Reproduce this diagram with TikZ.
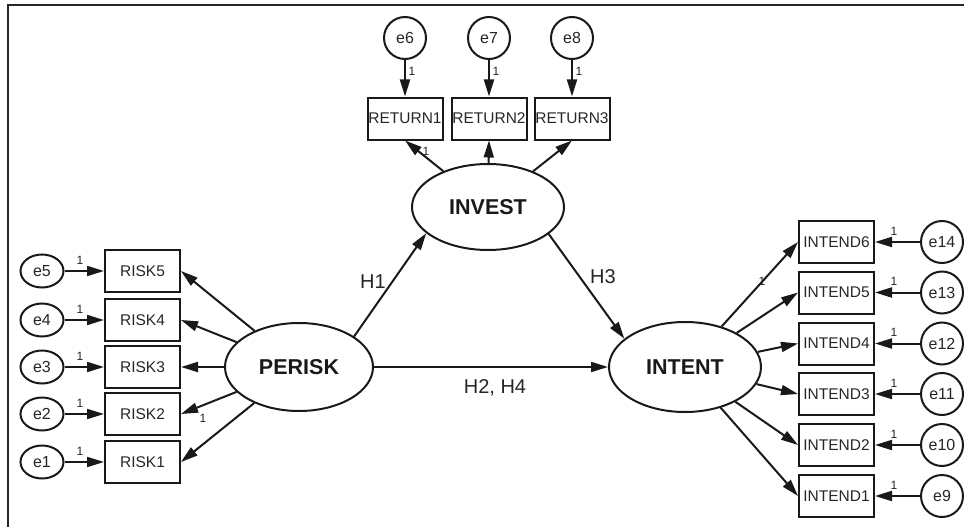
\documentclass[tikz,border=0pt]{standalone}
\usepackage{fontspec}
\setmainfont{Liberation Sans}
\usetikzlibrary{shapes.geometric,arrows.meta}
\begin{document}
\begin{tikzpicture}[x=1pt,y=-1pt,
  ink/.style={draw=black!90, line width=2pt},
  obs/.style={ink, rectangle, minimum width=75pt, minimum height=42pt, inner sep=0pt, text=black!85, font=\fontsize{15.5}{18}\selectfont},
  errc/.style={ink, circle, minimum size=42pt, inner sep=0pt, text=black!85, font=\fontsize{16}{18}\selectfont},
  erre/.style={ink, ellipse, minimum width=43pt, minimum height=33pt, inner sep=0pt, text=black!85, font=\fontsize{16}{18}\selectfont},
  lat/.style={ink, ellipse, inner sep=0pt, text=black!90, font=\bfseries\fontsize{21.5}{24}\selectfont},
  arr/.style={draw=black!90, line width=2pt, -{Triangle[length=17pt,width=10pt]}},
  one/.style={font=\fontsize{12}{14}\selectfont, text=black!85, inner sep=0pt},
  hyp/.style={font=\fontsize{20}{22}\selectfont, text=black!85, inner sep=0pt}]
\useasboundingbox (0,0) rectangle (964,527);
\draw[black!85, line width=2pt] (8,527) -- (8,5) -- (964,5);

% latent
\node[lat, minimum width=148pt, minimum height=88pt] (PERISK) at (299,367) {PERISK};
\node[lat, minimum width=152pt, minimum height=86pt] (INVEST) at (488,207) {INVEST};
\node[lat, minimum width=152pt, minimum height=90pt] (INTENT) at (685,367) {INTENT};

% left side
\foreach \i/\y in {5/271,4/320,3/367,2/414,1/462}{
  \node[obs] (RISK\i) at (142.5,\y) {RISK\i};
  \node[erre] (e\i) at (42,\y) {e\i};
  \draw[arr] (e\i) -- (RISK\i);
  \node[one] (o\i) at (80,\y-11) {1};
  \draw[arr] (PERISK) -- (RISK\i.east);
}
\node[one] (oR1) at (203,418) {1};

% top
\foreach \i/\e/\x in {1/6/405,2/7/489,3/8/572}{
  \node[obs] (RETURN\i) at (\x,118.5) {RETURN\i};
  \node[errc] (e\e) at (\x,38) {e\e};
  \draw[arr] (e\e) -- (RETURN\i);
  \node[one] (o\e) at (\x+7,71) {1};
  \draw[arr] (INVEST) -- (RETURN\i.south);
}
\node[one] (oT1) at (426,151) {1};

% right side
\foreach \i/\e/\y in {6/14/242,5/13/292.5,4/12/343.5,3/11/394,2/10/445,1/9/496}{
  \node[obs] (INTEND\i) at (836.5,\y) {INTEND\i};
  \node[errc] (e\e) at (942,\y) {e\e};
  \draw[arr] (e\e) -- (INTEND\i);
  \node[one] (o\e) at (894,\y-11) {1};
  \draw[arr] (INTENT) -- (INTEND\i.west);
}
\node[one] (oI6) at (762,281) {1};

% structural paths
\draw[arr] (PERISK.29) -- (INVEST.203);
\draw[arr] (INVEST.336) -- (INTENT.155);
\draw[arr] (PERISK) -- (INTENT);
\node[hyp] (h1) at (373,282) {H1};
\node[hyp] (h3) at (603,277) {H3};
\node[hyp] (h24) at (495,388) {H2, H4};
\end{tikzpicture}
\end{document}
